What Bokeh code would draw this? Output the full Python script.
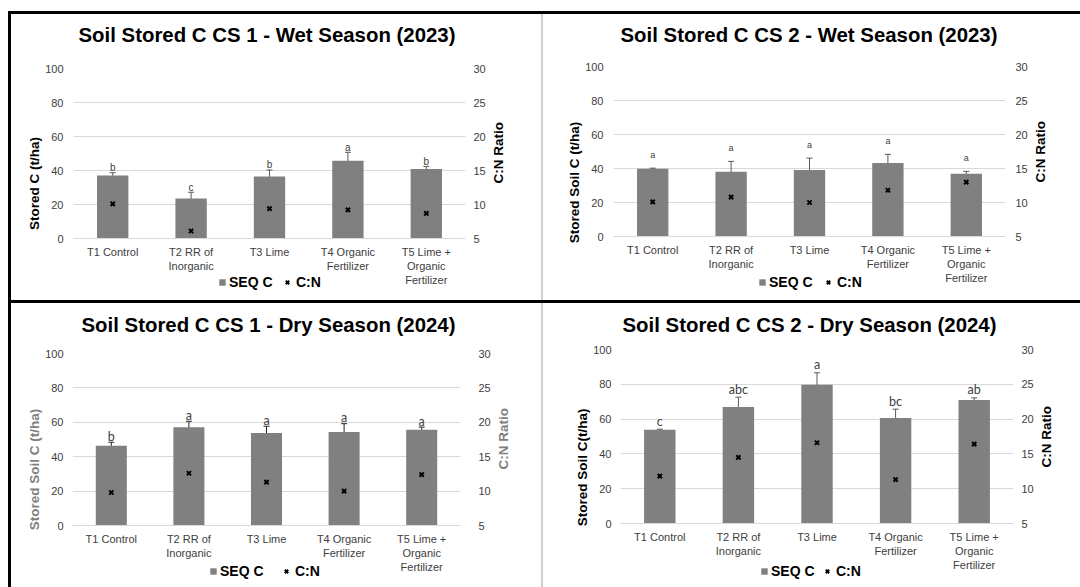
import math
from bokeh.plotting import figure
from bokeh.models import (Range1d, LinearAxis, FixedTicker, ColumnDataSource, Whisker,
                          TeeHead, Legend, LegendItem, Spacer, Title)
from bokeh.layouts import column, row
from bokeh.embed import file_html
from bokeh.resources import INLINE
from bokeh.core.properties import value

# ---------------- data ----------------
categories = ["T1 Control", "T2 RR of\nInorganic", "T3 Lime",
              "T4 Organic\nFertilizer", "T5 Lime +\nOrganic\nFertilizer"]

left_ticks = [0, 20, 40, 60, 80, 100]
right_ticks = [5, 10, 15, 20, 25, 30]

titles = ["Soil Stored C CS 1 - Wet Season (2023)",
          "Soil Stored C CS 2 - Wet Season (2023)",
          "Soil Stored C CS 1 - Dry Season (2024)",
          "Soil Stored C CS 2 - Dry Season (2024)"]
y_labels = ["Stored C (t/ha)", "Stored Soil C (t/ha)",
            "Stored Soil C (t/ha)", "Stored Soil C(t/ha)"]
right_label = "C:N Ratio"
legend_labels = ["SEQ C", "C:N"]

seq_c_cs1_wet = [37.0, 23.5, 36.4, 45.8, 40.9]
err_cs1_wet = [1.7, 3.7, 3.9, 4.9, 1.5]
cn_cs1_wet = [10.1, 6.1, 9.4, 9.2, 8.7]
letters_cs1_wet = ["b", "c", "b", "a", "b"]

seq_c_cs2_wet = [39.9, 38.1, 39.1, 43.2, 36.9]
err_cs2_wet = [0.3, 6.1, 7.0, 5.1, 1.4]
cn_cs2_wet = [10.1, 10.8, 10.0, 11.8, 13.0]
letters_cs2_wet = ["a", "a", "a", "a", "a"]

seq_c_cs1_dry = [46.4, 57.1, 53.8, 54.4, 55.7]
err_cs1_dry = [2.0, 3.5, 3.9, 4.8, 1.5]
cn_cs1_dry = [9.8, 12.6, 11.3, 10.0, 12.4]
letters_cs1_dry = ["b", "a", "a", "a", "a"]

seq_c_cs2_dry = [53.9, 67.0, 79.7, 60.7, 71.0]
err_cs2_dry = [0.3, 5.6, 6.9, 5.0, 1.2]
cn_cs2_dry = [11.8, 14.5, 16.6, 11.3, 16.4]
letters_cs2_dry = ["c", "abc", "a", "bc", "ab"]

FONT = "Liberation Sans"
BAR = "#808080"
GRID = "#d9d9d9"
TICK = "#404040"


def style_legend(leg, gw):
    leg.background_fill_alpha = 0
    leg.border_line_color = None
    leg.padding = 0
    leg.margin = 0
    leg.spacing = 0
    leg.label_standoff = 3
    leg.glyph_width = gw
    leg.glyph_height = gw
    leg.label_text_font = FONT
    leg.label_text_font_size = "14px"
    leg.label_text_font_style = "bold"
    leg.label_text_color = "black"


def panel(title, ylabel, seq, err, cn, letters, st):
    # frame reaches down to the panel bottom; value 0 sits st["zp"] px below the frame top
    frame_h = st["h"] - st["t"] - st["b"]
    k = 100.0 * (frame_h - st["zp"]) / st["zp"]
    p = figure(x_range=categories, y_range=Range1d(-k, 100),
               width=st["w"], height=st["h"],
               min_border_left=st["l"], min_border_right=st["r"],
               min_border_top=st["t"], min_border_bottom=st["b"],
               output_backend="svg", toolbar_location=None, title=title)
    p.outline_line_color = None
    p.background_fill_color = "white"
    p.border_fill_color = "white"
    p.title.text_font = FONT
    p.title.text_font_size = "20.4px"
    p.title.text_font_style = "bold"
    p.title.text_color = "black"
    p.title.align = "left"
    p.title.offset = st["toff"]
    p.title.standoff = 0
    # spacer between the frame and the title
    p.add_layout(Title(text=" ", text_font_size="1px", standoff=st["gap"]), "above")

    src = ColumnDataSource(dict(
        x=categories, top=seq,
        upper=[s + e for s, e in zip(seq, err)],
        lower=[s - e for s, e in zip(seq, err)],
        cn=cn, letters=letters))

    bars = p.vbar(x="x", top="top", bottom=0, width=0.4, source=src,
                  fill_color=BAR, line_color=None)
    p.add_layout(Whisker(source=src, base="x", upper="upper", lower="lower",
                         line_color=st["ec"], line_width=1,
                         upper_head=TeeHead(size=6, line_color=st["ec"], line_width=1),
                         lower_head=TeeHead(size=6, line_color=st["ec"], line_width=1)))
    p.text(x="x", y="upper", text="letters", source=src, text_align="center",
           text_baseline="alphabetic", y_offset=st["loff"],
           text_font=value(st["lfont"]), text_font_size=value(st["lsize"]),
           text_color="#404040")

    p.extra_y_ranges = {"cn": Range1d(5 - 0.25 * k, 30)}
    pts = p.scatter(x="x", y="cn", source=src, y_range_name="cn", marker="x",
                    size=6, line_color="black", line_width=2)

    # left axis
    ya = p.left[0]
    ya.ticker = FixedTicker(ticks=left_ticks)
    ya.axis_label = ylabel
    ya.axis_label_text_font = FONT
    ya.axis_label_text_font_size = "13.5px"
    ya.axis_label_text_font_style = "bold"
    ya.axis_label_text_color = st["alc"]
    ya.axis_label_standoff = 0
    ya.major_label_text_font = FONT
    ya.major_label_text_font_size = "11px"
    ya.major_label_text_color = TICK
    ya.major_label_standoff = st["lts"]
    ya.major_tick_out = 0
    ya.major_tick_in = 0
    ya.axis_line_color = None
    ya.major_tick_line_color = None
    ya.minor_tick_line_color = None

    ra = LinearAxis(y_range_name="cn", ticker=FixedTicker(ticks=right_ticks),
                    axis_label=right_label)
    ra.axis_label_orientation = math.pi / 2
    ra.axis_label_text_font = FONT
    ra.axis_label_text_font_size = "13.5px"
    ra.axis_label_text_font_style = "bold"
    ra.axis_label_text_color = st["alc"]
    ra.axis_label_standoff = 10
    ra.major_label_text_font = FONT
    ra.major_label_text_font_size = "11px"
    ra.major_label_text_color = TICK
    ra.major_label_standoff = st["rts"]
    ra.major_tick_out = 0
    ra.major_tick_in = 0
    ra.axis_line_color = None
    ra.major_tick_line_color = None
    ra.minor_tick_line_color = None
    p.add_layout(ra, "right")

    xa = p.below[0]
    xa.fixed_location = 0
    xa.axis_line_color = GRID
    xa.major_tick_line_color = None
    xa.minor_tick_line_color = None
    xa.major_tick_out = 0
    xa.major_tick_in = 0
    xa.major_label_text_font = FONT
    xa.major_label_text_font_size = "11px"
    xa.major_label_text_color = TICK
    xa.major_label_standoff = 7

    p.xgrid.visible = False
    p.ygrid.ticker = FixedTicker(ticks=left_ticks)
    p.ygrid.grid_line_color = GRID

    leg1 = Legend(items=[LegendItem(label=legend_labels[0], renderers=[bars])],
                  location=(st["leg1"], st["legy"]), orientation="horizontal")
    style_legend(leg1, 8)
    p.add_layout(leg1, "center")
    leg2 = Legend(items=[LegendItem(label=legend_labels[1], renderers=[pts])],
                  location=(st["leg2"], st["legy"]), orientation="horizontal")
    style_legend(leg2, 12)
    p.add_layout(leg2, "center")
    return p


st1 = dict(w=530, h=286, l=62, r=76, t=54, b=2, zp=170, gap=20, toff=5, ec="#595959",
           lts=10, rts=8, loff=-5, lfont=FONT, lsize="10px", alc="black",
           leg1=145, leg2=208, legy=8)
st2 = dict(w=537, h=286, l=70, r=75, t=52, b=2, zp=170, gap=18, toff=7, ec="#595959",
           lts=10, rts=10, loff=-13, lfont=FONT, lsize="9px", alc="black",
           leg1=145, leg2=209, legy=8)
st3 = dict(w=530, h=284, l=61, r=81, t=50, b=2, zp=172, gap=15, toff=9, ec="#262626",
           lts=9, rts=18, loff=-6, lfont="Lato", lsize="12.5px", alc="#7f7f7f",
           leg1=137, leg2=208, legy=6)
st4 = dict(w=537, h=284, l=77, r=67, t=46, b=2, zp=174, gap=11, toff=2, ec="#595959",
           lts=9, rts=8, loff=-8, lfont="Lato", lsize="12.5px", alc="black",
           leg1=140, leg2=201, legy=6)

p1 = panel(titles[0], y_labels[0], seq_c_cs1_wet, err_cs1_wet, cn_cs1_wet, letters_cs1_wet, st1)
p2 = panel(titles[1], y_labels[1], seq_c_cs2_wet, err_cs2_wet, cn_cs2_wet, letters_cs2_wet, st2)
p3 = panel(titles[2], y_labels[2], seq_c_cs1_dry, err_cs1_dry, cn_cs1_dry, letters_cs1_dry, st3)
p4 = panel(titles[3], y_labels[3], seq_c_cs2_dry, err_cs2_dry, cn_cs2_dry, letters_cs2_dry, st4)


def bar(w, h, color):
    return Spacer(width=w, height=h, styles={"background-color": color})


layout = column(
    Spacer(width=1080, height=11),
    row(Spacer(width=8, height=3), bar(1072, 3, "black")),
    row(Spacer(width=8, height=286), bar(3, 286, "black"), column(p1),
        bar(2, 286, "#cfcfcf"), column(p2)),
    row(Spacer(width=8, height=3), bar(1072, 3, "black")),
    row(Spacer(width=8, height=284), bar(3, 284, "black"), column(p3),
        bar(2, 284, "#cfcfcf"), column(p4)),
)

open("out.html", "w").write(file_html(layout, INLINE))
